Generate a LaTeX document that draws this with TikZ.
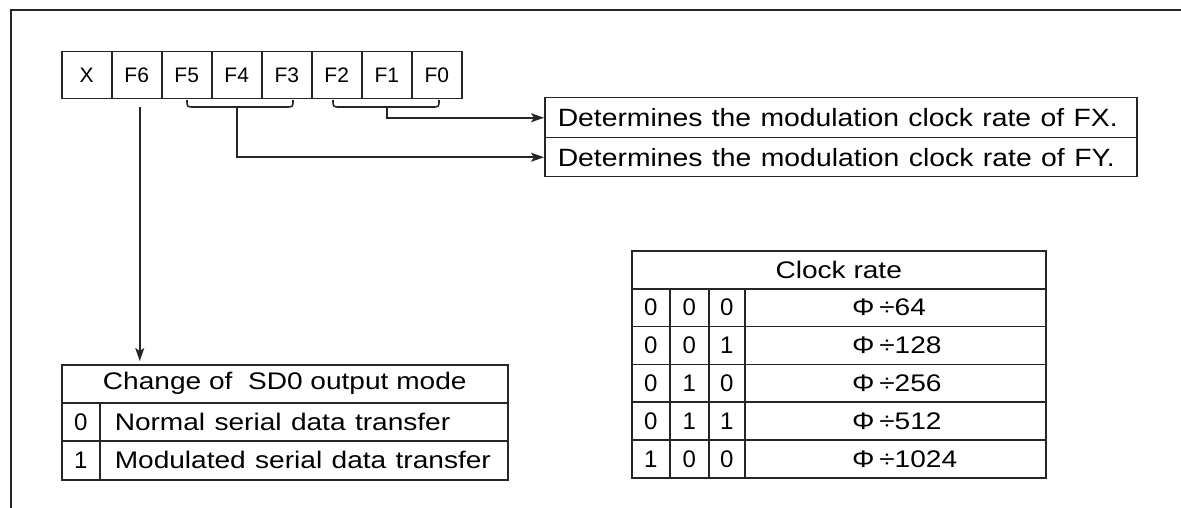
\documentclass[tikz,border=0pt]{standalone}
\usepackage{graphicx}
\usepackage{fontspec}
\setmainfont{Liberation Sans}
\usetikzlibrary{arrows.meta}
\newcommand\sx[1]{\scalebox{1.17}[1]{#1}}
\begin{document}
\begin{tikzpicture}[x=1pt,y=-1pt,
  line/.style={draw=black!85, line width=1.5pt},
  cell/.style={line, inner sep=0pt, anchor=north west, text=black,
    font=\fontsize{24}{26}\selectfont},
  reg/.style={cell, minimum width=50pt, minimum height=47pt,
    font=\fontsize{21}{23}\selectfont},
  desc/.style={cell, minimum height=40pt, text width=566pt, align=left,
    inner xsep=13pt, font=\fontsize{25}{27}\selectfont},
  lbl/.style={inner sep=0pt, text=black, font=\fontsize{24}{26}\selectfont},
  conn/.style={draw=black!85, line width=1.6pt},
  tip/.style={-{Stealth[length=13pt,width=9pt,inset=3pt]}},
  frame/.style={draw=black!85, line width=2.6pt},
]
\useasboundingbox (0,0) rectangle (1181,508);
% frame
\draw[frame] (11,508) -- (11,10) -- (1181,10);

% register
\node[reg] (b7) at (61,51)  {X};
\node[reg] (b6) at (111,51) {F6};
\node[reg] (b5) at (161,51) {F5};
\node[reg] (b4) at (211,51) {F4};
\node[reg] (b3) at (261,51) {F3};
\node[reg] (b2) at (311,51) {F2};
\node[reg] (b1) at (361,51) {F1};
\node[reg] (b0) at (411,51) {F0};

% description boxes
\node[desc] (fx) at (544,97)  {\resizebox{560pt}{\height}{Determines the modulation clock rate of FX.}};
\node[desc, minimum height=39pt] (fy) at (544,137) {\resizebox{557pt}{\height}{Determines the modulation clock rate of FY.}};

% brackets
\coordinate (ya) at (237,107);
\coordinate (xa) at (387,107);
\draw[conn] (187,100) .. controls (187,107) .. (194,107) -- (286,107) .. controls (293,107) .. (293,100);
\draw[conn] (333,100) .. controls (333,107) .. (340,107) -- (432,107) .. controls (439,107) .. (439,100);
\draw[conn,tip] (xa) |- (fx.west);
\draw[conn,tip] (ya) |- (fy.west);

% SD0 table
\node[cell, minimum width=446pt, minimum height=38pt] (sdt) at (61,364) {\sx{Change of \ SD0 output mode}};
\node[cell, minimum width=38pt, minimum height=38pt] (sd0k) at (61,402) {0};
\node[cell, minimum width=408pt, minimum height=38pt, text width=378pt, align=left, inner xsep=15pt] (sd0v) at (99,402) {\sx{Normal serial data transfer}};
\node[cell, minimum width=38pt, minimum height=39pt] (sd1k) at (61,440) {1};
\node[cell, minimum width=408pt, minimum height=39pt, text width=378pt, align=left, inner xsep=15pt] (sd1v) at (99,440) {\sx{Modulated serial data transfer}};

% F6 arrow
\draw[conn,tip] ([xshift=3pt,yshift=-8pt]b6.south) -- ([xshift=3pt]b6.south |- sdt.north) [shorten >=3pt];

% clock rate table
\node[cell, minimum width=414pt, minimum height=38pt] (cth) at (631,250) {\sx{Clock rate}};
\foreach \i/\a/\b/\c/\v in {0/0/0/0/64, 1/0/0/1/128, 2/0/1/0/256, 3/0/1/1/512, 4/1/0/0/1024} {
  \pgfmathsetmacro\yy{288+37.8*\i}
  \node[cell, minimum width=38pt, minimum height=37.8pt] (ca\i) at (631,\yy) {\a};
  \node[cell, minimum width=39pt, minimum height=37.8pt] (cb\i) at (669,\yy) {\b};
  \node[cell, minimum width=36pt, minimum height=37.8pt] (cc\i) at (708,\yy) {\c};
  \node[cell, minimum width=301pt, minimum height=37.8pt] (cd\i) at (744,\yy) {};
  \node[lbl, anchor=west] (cv\i) at ([xshift=108pt]cd\i.west) {\sx{Φ\,÷\v}};
}
\end{tikzpicture}
\end{document}
